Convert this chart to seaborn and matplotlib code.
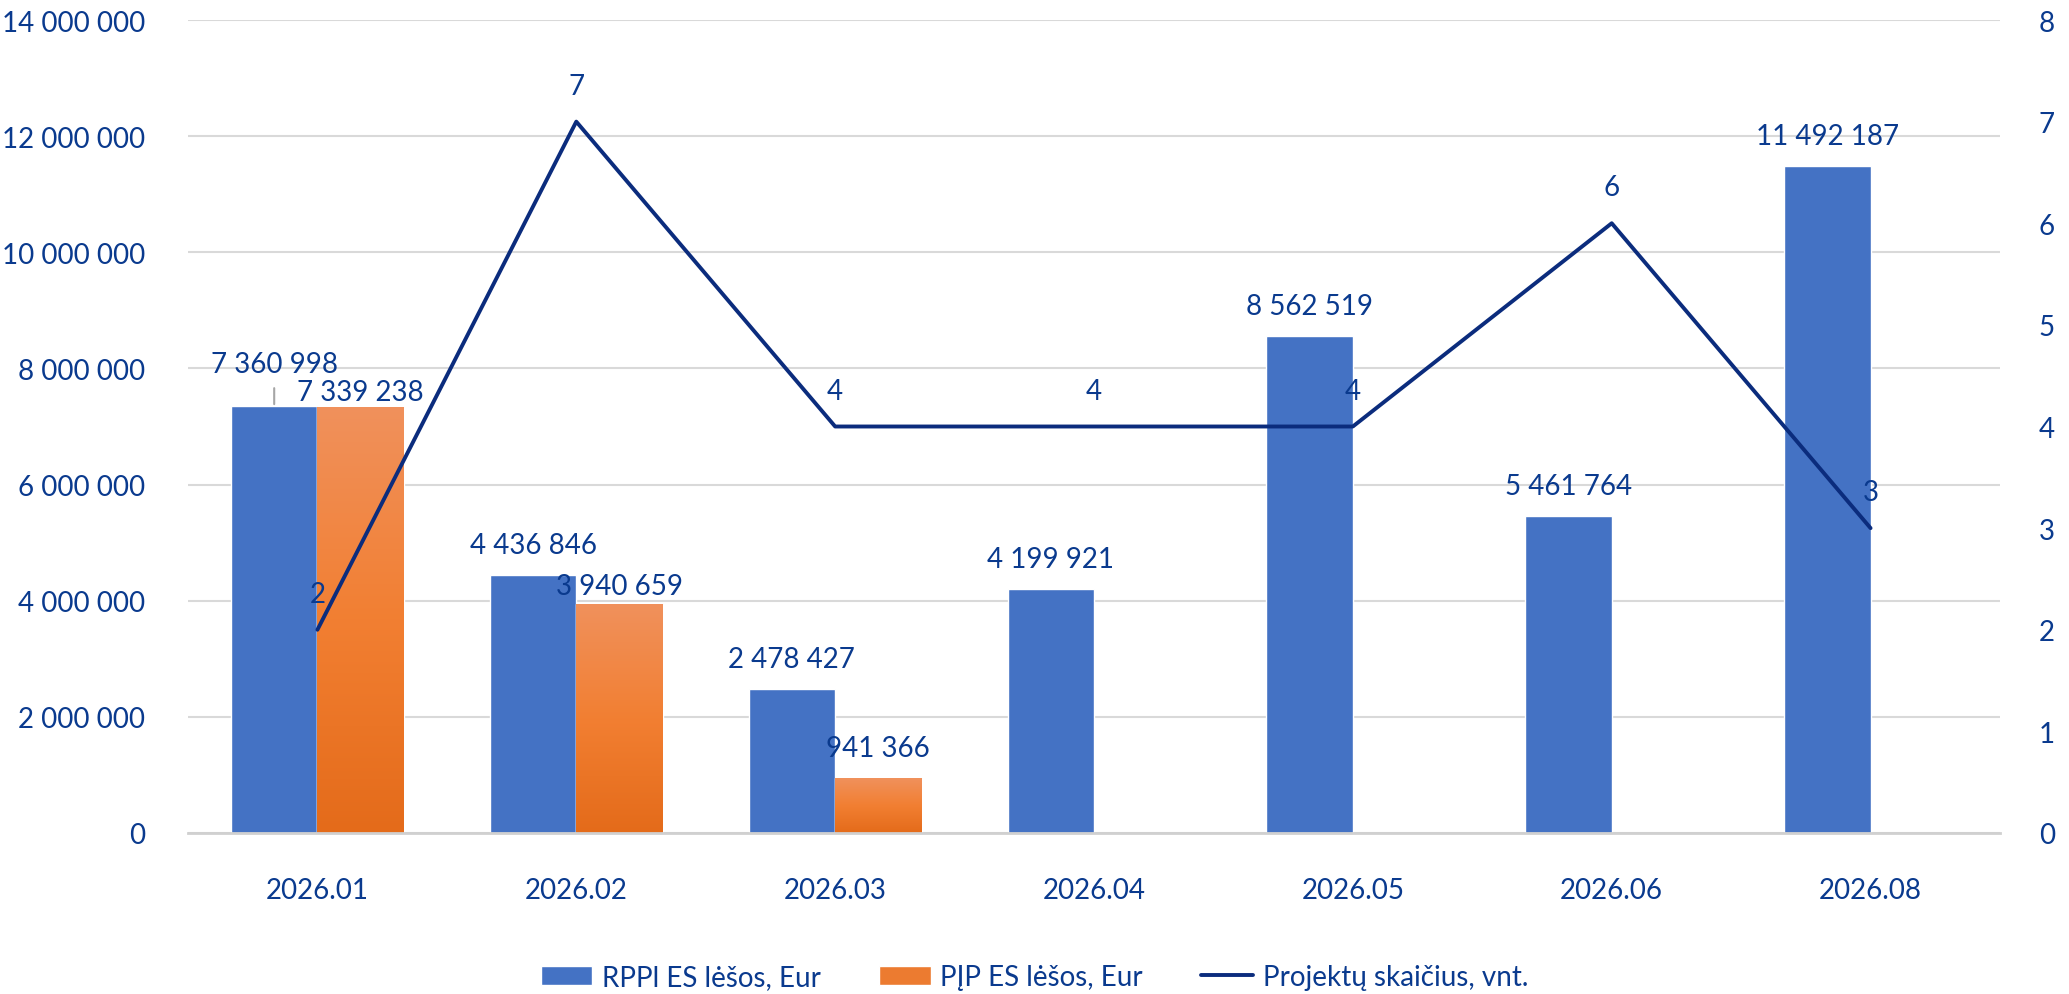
import numpy as np
import pandas as pd
import matplotlib
matplotlib.use("Agg")
import matplotlib.pyplot as plt
import seaborn as sns
from matplotlib.patches import Patch
from matplotlib.lines import Line2D
from matplotlib.ticker import FuncFormatter

# data
months = ["2026.01", "2026.02", "2026.03", "2026.04", "2026.05", "2026.06", "2026.08"]
rppi_eur = [7360998, 4436846, 2478427, 4199921, 8562519, 5461764, 11492187]
pjp_eur = [7339238, 3940659, 941366, np.nan, np.nan, np.nan, np.nan]
projects = [2, 7, 4, 4, 4, 6, 3]

series_names = ["RPPl ES lėšos, Eur", "PĮP ES lėšos, Eur", "Projektų skaičius, vnt."]

BLUE = "#4472C4"
ORANGE = "#EC7B30"
LINE = "#0B2C7D"
TEXT = "#0A3A8E"
GRID = "#D9D9D9"

sns.set_style("white")
plt.rcParams["font.family"] = ["Lato", "DejaVu Sans"]
plt.rcParams["font.size"] = 20

df = pd.DataFrame({
    "month": months * 2,
    "series": [series_names[0]] * len(months) + [series_names[1]] * len(months),
    "value": rppi_eur + pjp_eur,
}).dropna()

fig = plt.figure(figsize=(20.69, 9.95), dpi=100)
ax = fig.add_axes([188 / 2069, 1 - 834 / 995, (2000 - 188) / 2069, (834 - 21) / 995])

sns.barplot(data=df, x="month", y="value", hue="series", order=months,
            hue_order=series_names[:2], palette=[BLUE, ORANGE], saturation=1,
            width=0.668, ax=ax, legend=False, errorbar=None)

# gradient fill on the orange bars (light on top, darker at the bottom)
grad = np.linspace(0, 1, 256).reshape(-1, 1)
cmap = matplotlib.colors.LinearSegmentedColormap.from_list(
    "org", ["#E46B1A", "#F27F32", "#F0915C"])
for bar in ax.containers[1]:
    x0, w, h = bar.get_x(), bar.get_width(), bar.get_height()
    im = ax.imshow(grad, extent=[x0, x0 + w, 0, h], origin="lower",
                   aspect="auto", cmap=cmap, zorder=bar.get_zorder() + 0.1)
    im.set_clip_path(bar)

ax.set_xlim(-0.5, len(months) - 0.5)
ax.set_ylim(0, 14_000_000)
ax.set_yticks(np.arange(0, 14_000_001, 2_000_000))
ax.yaxis.set_major_formatter(FuncFormatter(lambda v, p: f"{v:,.0f}".replace(",", " ")))
ax.set_xlabel("")
ax.set_ylabel("")
ax.grid(axis="y", color=GRID, lw=1.5)
ax.set_axisbelow(True)
for s in ["left", "right", "top"]:
    ax.spines[s].set_visible(False)
ax.spines["bottom"].set_color("#D0D0D0")
ax.spines["bottom"].set_linewidth(2)
ax.tick_params(axis="both", length=0, labelsize=20, labelcolor=TEXT)
ax.tick_params(axis="y", pad=31)
ax.tick_params(axis="x", pad=32)

# bar value labels (offsets in pixels above the bar top)
fmt = lambda v: f"{v:,.0f}".replace(",", " ")
blue_offsets = {0: 42}
orange_offsets = {0: 15, 1: 18}
for i, bar in enumerate(ax.containers[0]):
    xc = bar.get_x() + bar.get_width() / 2
    h = bar.get_height()
    off = blue_offsets.get(i, 30)
    kw = {}
    if i in blue_offsets:
        kw["arrowprops"] = dict(arrowstyle="-", color="#A6A6A6", lw=1.5,
                                shrinkA=6, shrinkB=1)
    ax.annotate(fmt(h), xy=(xc, h), xytext=(0, off * 0.72), textcoords="offset points",
                ha="center", va="center", color=TEXT, fontsize=20, **kw)
for i, bar in enumerate(ax.containers[1]):
    xc = bar.get_x() + bar.get_width() / 2
    h = bar.get_height()
    off = orange_offsets.get(i, 30)
    ax.annotate(fmt(h), xy=(xc, h), xytext=(0, off * 0.72), textcoords="offset points",
                ha="center", va="center", color=TEXT, fontsize=20, zorder=5)

# project count line on the secondary axis
ax2 = ax.twinx()
xpos = np.arange(len(months))
sns.lineplot(x=xpos, y=projects, ax=ax2, color=LINE, lw=2.8)
ax2.set_ylim(0, 8)
ax2.set_yticks(range(0, 9))
ax2.set_xlim(-0.5, len(months) - 0.5)
for s in ax2.spines.values():
    s.set_visible(False)
ax2.tick_params(axis="y", length=0, labelsize=20, labelcolor=TEXT, pad=28)
ax2.grid(False)
for x, v in zip(xpos, projects):
    ax2.annotate(str(v), xy=(x, v), xytext=(0, 36 * 0.72), textcoords="offset points",
                 ha="center", va="center", color=TEXT, fontsize=20)

handles = [Patch(facecolor=BLUE), Patch(facecolor=ORANGE),
           Line2D([0], [0], color=LINE, lw=2.8)]
fig.legend(handles, series_names, loc="center", bbox_to_anchor=(0.5, 1 - 978 / 995),
           ncol=3, frameon=False, fontsize=20, labelcolor=TEXT,
           handlelength=1.85, handleheight=0.7, handletextpad=0.35, columnspacing=2.1)

fig.savefig("out.png", dpi=100)
